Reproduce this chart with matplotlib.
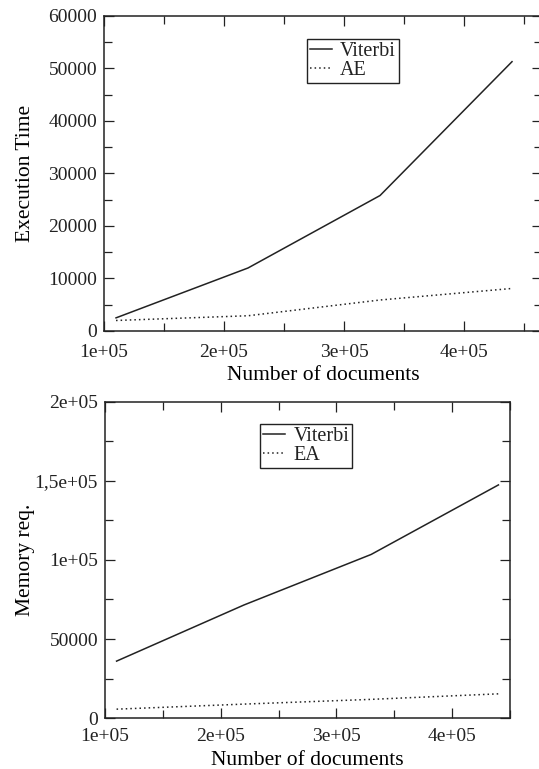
import matplotlib
matplotlib.use('Agg')
import matplotlib.pyplot as plt
from matplotlib.ticker import MultipleLocator

# number of documents used in each run
docs = [110000, 220000, 330000, 440000]

# execution time
time_viterbi = [2500, 12000, 25800, 51300]
time_ae = [2000, 2900, 5900, 8100]

# memory requirements
mem_viterbi = [36000, 71500, 103500, 147500]
mem_ea = [5600, 8800, 11800, 15300]

x_ticks = [100000, 200000, 300000, 400000]
x_labels = ['1e+05', '2e+05', '3e+05', '4e+05']
mem_ticks = [0, 50000, 100000, 150000, 200000]
mem_labels = ['0', '50000', '1e+05', '1,5e+05', '2e+05']

plt.rcParams['font.family'] = ['Liberation Serif', 'DejaVu Serif']
plt.rcParams['text.color'] = '#222222'

fig = plt.figure(figsize=(5.39, 7.69), dpi=100)
ax1 = fig.add_axes([0.193, 0.5696, 0.8126, 0.4096])
ax2 = fig.add_axes([0.1948, 0.0663, 0.7514, 0.411])


def style_axes(ax, xpad):
    ax.tick_params(which='both', direction='in', top=True, right=True,
                   labelsize=14, colors='#222222', width=0.9)
    ax.tick_params(axis='y', pad=5)
    ax.tick_params(axis='x', pad=xpad)
    ax.tick_params(which='major', length=7)
    ax.tick_params(which='minor', length=6)
    for s in ax.spines.values():
        s.set_linewidth(1.1)
        s.set_color('#222222')
    ax.set_xticks(x_ticks)
    ax.set_xticklabels(x_labels)
    ax.xaxis.set_minor_locator(MultipleLocator(50000))
    ax.set_xlabel('Number of documents', fontsize=15.5)


# execution time
ax1.plot(docs, time_viterbi, color='#222222', linewidth=1.1, label='Viterbi')
ax1.plot(docs, time_ae, color='#222222', linewidth=1.1, linestyle=(0, (1, 2)), label='AE')
ax1.set_xlim(100000, 465000)
ax1.set_ylim(0, 60000)
ax1.yaxis.set_major_locator(MultipleLocator(10000))
ax1.yaxis.set_minor_locator(MultipleLocator(5000))
style_axes(ax1, 9.5)
ax1.set_ylabel('Execution Time', fontsize=15.5)
ax1.yaxis.set_label_coords(-0.158, 0.5)
ax1.xaxis.set_label_coords(0.5, -0.111)
leg1 = ax1.legend(loc='upper left', bbox_to_anchor=(0.463, 0.927), borderaxespad=0,
                  fontsize=14.5, fancybox=False, edgecolor='#222222', framealpha=1,
                  handlelength=1.1, handletextpad=0.4, borderpad=0.15,
                  labelspacing=0.0)
leg1.get_frame().set_linewidth(1.0)

# memory requirements
ax2.plot(docs, mem_viterbi, color='#222222', linewidth=1.1, label='Viterbi')
ax2.plot(docs, mem_ea, color='#222222', linewidth=1.1, linestyle=(0, (1, 2)), label='EA')
ax2.set_xlim(100000, 450000)
ax2.set_ylim(0, 200000)
ax2.set_yticks(mem_ticks)
ax2.set_yticklabels(mem_labels)
ax2.yaxis.set_minor_locator(MultipleLocator(25000))
style_axes(ax2, 7.5)
ax2.set_ylabel('Memory req.', fontsize=15.5)
ax2.yaxis.set_label_coords(-0.172, 0.5)
ax2.xaxis.set_label_coords(0.5, -0.103)
leg2 = ax2.legend(loc='upper left', bbox_to_anchor=(0.383, 0.930), borderaxespad=0,
                  fontsize=14.5, fancybox=False, edgecolor='#222222', framealpha=1,
                  handlelength=1.1, handletextpad=0.4, borderpad=0.15,
                  labelspacing=0.0)
leg2.get_frame().set_linewidth(1.0)

fig.savefig('out.png', dpi=100)
